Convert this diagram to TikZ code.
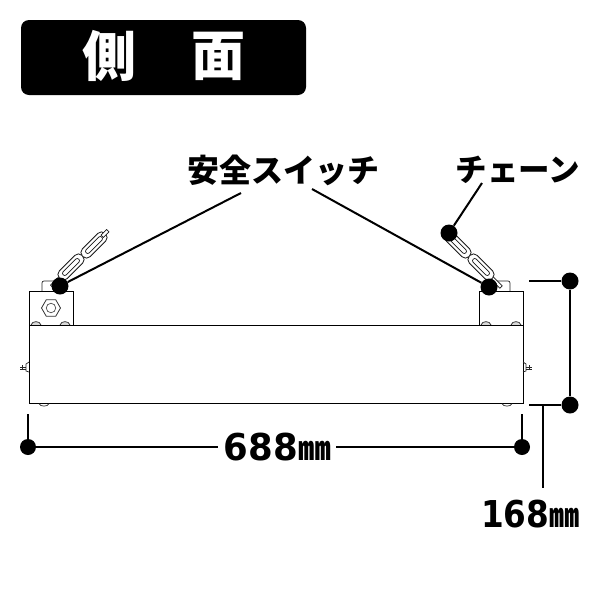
\documentclass[tikz,border=0pt]{standalone}
\usepackage{fontspec}
\usetikzlibrary{shapes.geometric}
\newfontfamily\cjk{Noto Sans CJK JP Black}
\newfontfamily\dig{DejaVu Sans Bold}[FakeStretch=.96]
\tikzset{
  x=1pt,y=-1pt,
  dotn/.style={circle,fill=black,inner sep=0pt,minimum size=17pt},
  dotm/.style={circle,fill=black,inner sep=0pt,minimum size=16pt},
  lead/.style={line width=2pt,black},
  part/.style={line width=1pt,black},
  thin part/.style={line width=.7pt,black!85},
  lab/.style={inner sep=0pt,font=\cjk\fontsize{32}{32}\selectfont},
  dimlab/.style={inner sep=0pt,font=\dig\fontsize{37}{37}\selectfont},
  titlebox/.style={fill=black,rounded corners=8pt},
  titletxt/.style={inner sep=0pt,text=white,font=\cjk\fontsize{54}{54}\selectfont},
}
\newcommand{\chainlink}[3]{%
  \begin{scope}[shift={(#1,#2)},rotate=#3]
    \draw[black!90,line width=.8pt,fill=white,rounded corners=5pt] (-16,-5.5) rectangle (16,5.5);
    \draw[black!90,line width=.7pt,rounded corners=2pt] (-11,-2.2) rectangle (11,2.2);
  \end{scope}}
\newcommand{\chainedge}[4]{%
  \begin{scope}[shift={(#1,#2)},rotate=#3]
    \draw[black!90,line width=.7pt,fill=white] (-#4,-1.6) rectangle (#4,1.6);
  \end{scope}}
\begin{document}
\begin{tikzpicture}
\useasboundingbox (0,0) rectangle (600,600);
% title
\path[titlebox] (21,20) rectangle (306,95);
\node[titletxt] (t1) at (109,56) {側};
\node[titletxt] (t2) at (218,56) {面};
% labels
\node[lab] (sw) at (283,170) {安全スイッチ};
\node[lab,font=\cjk\fontsize{31.5}{32}\selectfont] (ch) at (518,170) {チェーン};
% brackets behind
\draw[thin part,rounded corners=2pt,fill=white] (42,291) -- (42,281) -- (57,281) -- (57,291);
\draw[thin part,rounded corners=2pt,fill=white] (495,291) -- (495,281) -- (510,281) -- (510,291);
% left chain
\chainedge{58}{280}{45}{9}
\chainedge{83}{256}{45}{10}
\chainlink{71}{267}{45}
\chainlink{94}{245}{45}
\chainedge{105}{233.5}{45}{4}
% right chain
\chainedge{494}{280}{-45}{10}
\chainedge{469}{256}{-45}{10}
\chainlink{458}{245}{-45}
\chainlink{481}{267}{-45}
% fixture
\draw[part,fill=white] (29,325) -- (29,291) -- (73,291) -- (73,325);
\draw[part,fill=white] (479,325) -- (479,291) -- (523,291) -- (523,325);
\node[regular polygon,regular polygon sides=6,draw=black!80,line width=.8pt,minimum size=19pt,inner sep=0pt] (nut) at (51,308) {};
\node[circle,draw=black!70,line width=.7pt,minimum size=9.5pt,inner sep=0pt] (nuti) at (51,308) {};
\foreach \r in {36,65,486,516}{
  \draw[thin part,fill=black!15] (\r-5,325) .. controls (\r-4,320.5) and (\r+4,320.5) .. (\r+5,325);
}
\draw[part] (29,325) rectangle (523,403);
\foreach \f in {44,507}{
  \draw[thin part] (\f-5,403.5) .. controls (\f-4,407) and (\f+4,407) .. (\f+5,403.5);
}
\draw[thin part] (29,362) -- (26,364) -- (26,371) -- (29,372);
\draw[thin part] (20,367) -- (26,367) (22,365) -- (22,370) (20,369) -- (26,369);
\draw[thin part] (523,362) -- (526,364) -- (526,371) -- (523,372);
\draw[thin part] (526,367) -- (532,367) (529,365) -- (529,370) (526,369) -- (532,369);
% dots
\node[dotn] (dl) at (60,286) {};
\node[dotn] (dr) at (489,287) {};
\node[dotn] (dc) at (449,233) {};
\node[dotn] (h1) at (570,281) {};
\node[dotn] (h2) at (570,405) {};
\node[dotm] (w1) at (28,447) {};
\node[dotm] (w2) at (522,447) {};
% free ends
\coordinate (swl) at (241,193);
\coordinate (swr) at (312,189);
\coordinate (chl) at (482,183);
\coordinate (h1e) at (529,281);
\coordinate (h2e) at (529,405);
\coordinate (w1t) at (28,414);
\coordinate (w2t) at (522,414);
\coordinate (hv) at (543,405);
\coordinate (wl) at (218,447);
\coordinate (wr) at (336,447);
\coordinate (hb) at (543,488);
% leaders
\draw[lead] (dl) -- (swl);
\draw[lead] (dr) -- (swr);
\draw[lead] (dc) -- (chl);
\draw[lead] (h1) -- (h2);
\draw[lead] (h1) -- (h1e);
\draw[lead] (h2) -- (h2e);
\draw[lead] (w1) -- (w1t);
\draw[lead] (w2) -- (w2t);
% dimension labels
\node[dimlab] (w) at (277.5,447) {688\cjk\fontsize{33}{33}\selectfont ㎜};
\node[dimlab,xscale=.92] (h) at (530.5,514) {168\cjk\fontsize{33}{33}\selectfont ㎜};
\draw[lead] (w1) -- (wl);
\draw[lead] (w2) -- (wr);
\draw[lead] (hv) -- (hb);
\end{tikzpicture}
\end{document}
